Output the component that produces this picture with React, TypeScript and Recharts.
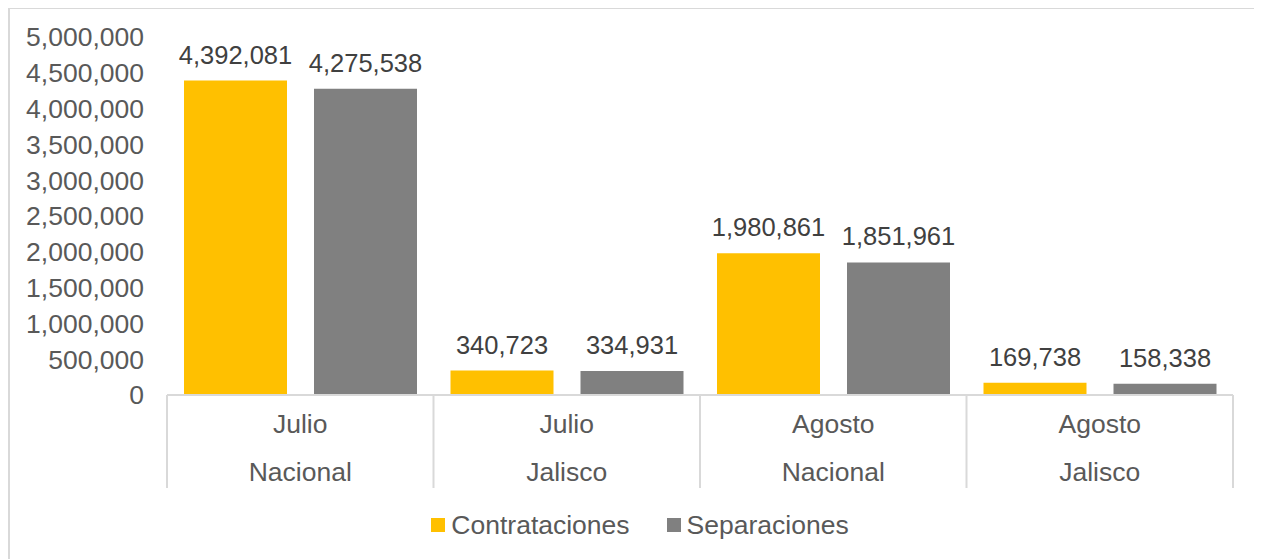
import { Bar, BarChart, LabelList, Legend, XAxis, YAxis } from "recharts";

const meses = ["Julio", "Julio", "Agosto", "Agosto"];
const regiones = ["Nacional", "Jalisco", "Nacional", "Jalisco"];
const contrataciones = [4392081, 340723, 1980861, 169738];
const separaciones = [4275538, 334931, 1851961, 158338];
const yTicks = [0, 500000, 1000000, 1500000, 2000000, 2500000, 3000000, 3500000, 4000000, 4500000, 5000000];

const FONT = "'Liberation Sans', Arial, sans-serif";
const AMARILLO = "#FFC000";
const GRIS = "#808080";
const BORDE = "#d9d9d9";
const TXT = 26.5;

const rows = meses.map((mes, i) => ({
  key: `${mes} ${regiones[i]}`,
  contrataciones: contrataciones[i],
  separaciones: separaciones[i],
}));

const fmt = (v: number) => Number(v).toLocaleString("en-US");

function CategoriaTick(props: any) {
  const { x, y, payload } = props;
  const i = payload.index;
  const half = payload.offset ?? 133;
  return (
    <g>
      <line x1={x - half} x2={x - half} y1={y} y2={y + 93} stroke={BORDE} strokeWidth={2} />
      {i === rows.length - 1 && (
        <line x1={x + half} x2={x + half} y1={y} y2={y + 93} stroke={BORDE} strokeWidth={2} />
      )}
      <text x={x} y={y + 38} textAnchor="middle" fill="#595959" fontSize={TXT} fontFamily={FONT}>
        {meses[i]}
      </text>
      <text x={x} y={y + 86} textAnchor="middle" fill="#595959" fontSize={TXT} fontFamily={FONT}>
        {regiones[i]}
      </text>
    </g>
  );
}

function Leyenda() {
  const items = [
    { name: "Contrataciones", color: AMARILLO },
    { name: "Separaciones", color: GRIS },
  ];
  return (
    <div
      style={{
        height: 40,
        display: "flex",
        justifyContent: "center",
        alignItems: "center",
        gap: 37,
        paddingLeft: 18,
        fontFamily: FONT,
        fontSize: TXT,
        color: "#595959",
      }}
    >
      {items.map((it) => (
        <div key={it.name} style={{ display: "flex", alignItems: "center", gap: 6 }}>
          <span style={{ width: 14, height: 14, background: it.color, display: "inline-block" }} />
          <span>{it.name}</span>
        </div>
      ))}
    </div>
  );
}

export default function App() {
  return (
    <div style={{ position: "relative", margin: "-8px 0 0 -8px", width: 1262, height: 559, overflow: "hidden", background: "#fff" }}>
      {/* title sits above the crop; only its descenders show */}
      <div
        style={{
          position: "absolute",
          left: 467,
          top: -21,
          fontFamily: FONT,
          fontWeight: "bold",
          fontSize: 26,
          lineHeight: "26px",
          whiteSpace: "nowrap",
        }}
      >
        Julio y Agosto
      </div>
      <div
        style={{
          position: "absolute",
          left: 8,
          top: 7,
          width: 1251,
          height: 600,
          border: `2px solid ${BORDE}`,
        }}
      />
      <div style={{ position: "absolute", left: 0, top: 0 }}>
        <BarChart
          width={1262}
          height={559}
          data={rows}
          margin={{ top: 37, right: 29, bottom: 14, left: 0 }}
          barCategoryGap={17}
          barGap={27}
        >
          <XAxis
            dataKey="key"
            height={110}
            interval={0}
            tickSize={0}
            tickMargin={0}
            axisLine={{ stroke: BORDE, strokeWidth: 2 }}
            tickLine={false}
            tick={<CategoriaTick />}
          />
          <YAxis
            width={167}
            domain={[0, 5000000]}
            ticks={yTicks}
            interval={0}
            tickFormatter={fmt}
            tickSize={0}
            tickMargin={23}
            axisLine={false}
            tickLine={false}
            tick={{ fill: "#595959", fontSize: TXT, fontFamily: FONT }}
          />
          <Legend verticalAlign="bottom" content={<Leyenda />} wrapperStyle={{ left: 0, width: 1262 }} />
          <Bar dataKey="contrataciones" name="Contrataciones" fill={AMARILLO} isAnimationActive={false}>
            <LabelList dataKey="contrataciones" position="top" offset={17} formatter={fmt} fill="#404040" fontSize={25.5} fontFamily={FONT} />
          </Bar>
          <Bar dataKey="separaciones" name="Separaciones" fill={GRIS} isAnimationActive={false}>
            <LabelList dataKey="separaciones" position="top" offset={17} formatter={fmt} fill="#404040" fontSize={25.5} fontFamily={FONT} />
          </Bar>
        </BarChart>
      </div>
    </div>
  );
}
